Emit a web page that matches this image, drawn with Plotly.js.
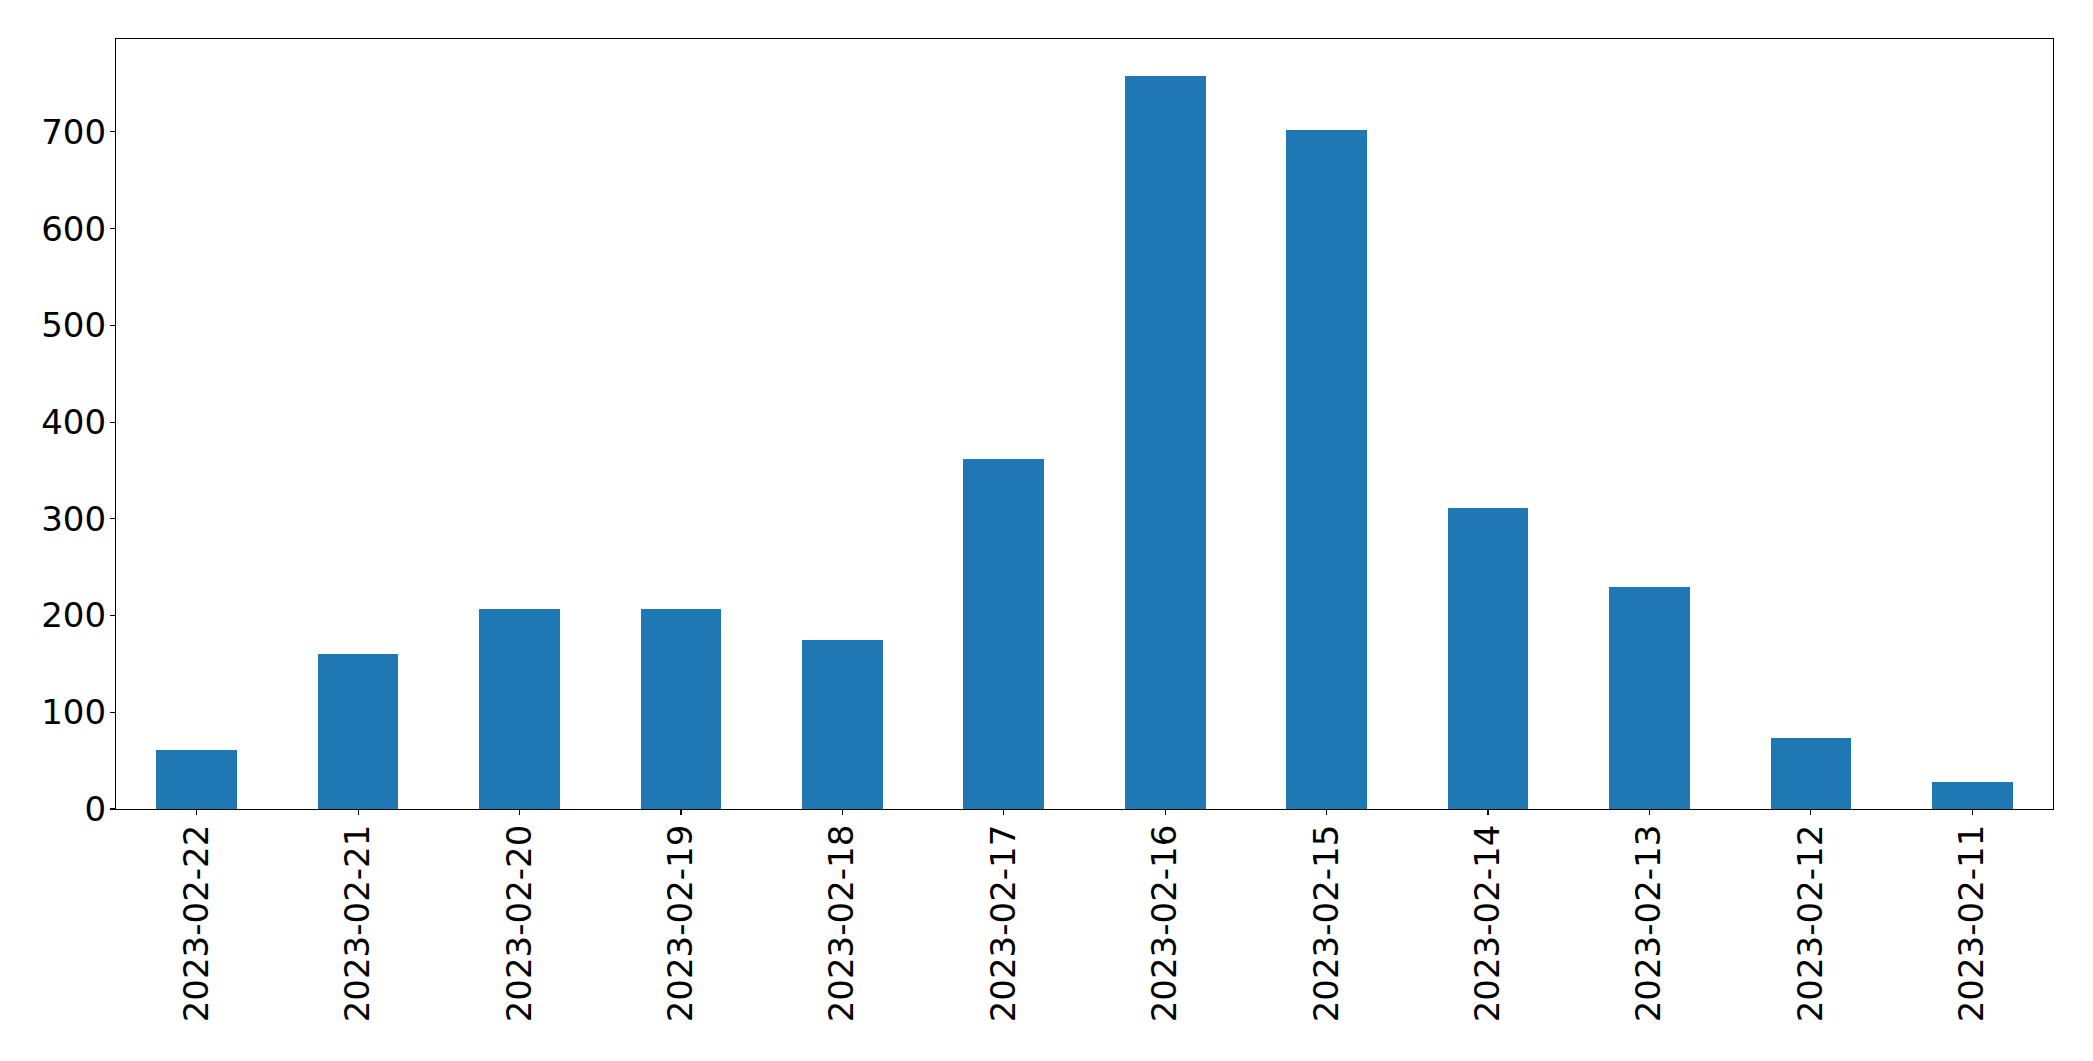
<!DOCTYPE html>
<html>
<head>
<meta charset="utf-8">
<script src="https://cdn.plot.ly/plotly-3.0.1.min.js"></script>
<style>html,body{margin:0;padding:0;background:#fff;}#chart{width:2093px;height:1061px;}</style>
</head>
<body>
<div id="chart"></div>
<script>
const dates = ["2023-02-22","2023-02-21","2023-02-20","2023-02-19","2023-02-18","2023-02-17","2023-02-16","2023-02-15","2023-02-14","2023-02-13","2023-02-12","2023-02-11"];
const counts = [61, 160, 207, 207, 175, 362, 758, 702, 311, 229, 73, 28];
const yTicks = [0, 100, 200, 300, 400, 500, 600, 700];

const font = {family: "DejaVu Sans", size: 34, color: "#000"};
const trace = {
  type: "bar",
  x: dates,
  y: counts,
  width: 0.5,
  marker: {color: "#1f77b4", line: {width: 0}},
  hoverinfo: "x+y"
};
const layout = {
  width: 2093, height: 1061,
  margin: {l: 116, r: 40, t: 39, b: 252, pad: 0},
  paper_bgcolor: "#fff", plot_bgcolor: "#fff",
  showlegend: false,
  bargap: 0,
  xaxis: {
    type: "category",
    range: [-0.5, dates.length - 0.5],
    tickangle: -90,
    tickfont: font,
    ticks: "outside", ticklen: 5, tickwidth: 1.1, tickcolor: "#000",
    showline: true, linecolor: "#000", linewidth: 1.1, mirror: true,
    showgrid: false, zeroline: false,
    ticklabelstandoff: -4
  },
  yaxis: {
    range: [0, 796],
    tickvals: yTicks,
    ticktext: yTicks.map(String),
    tickfont: font,
    ticks: "outside", ticklen: 5, tickwidth: 1.1, tickcolor: "#000",
    showline: true, linecolor: "#000", linewidth: 1.1, mirror: true,
    showgrid: false, zeroline: false,
    ticklabelstandoff: -3
  }
};
Plotly.newPlot("chart", [trace], layout, {displayModeBar: false, staticPlot: true});
</script>
</body>
</html>
